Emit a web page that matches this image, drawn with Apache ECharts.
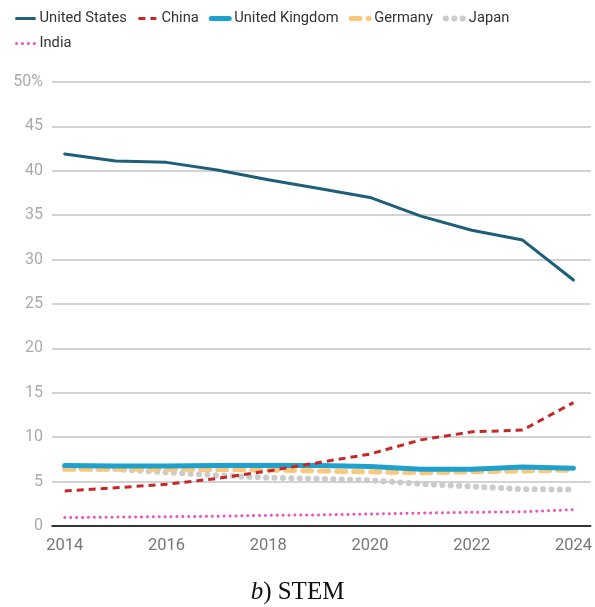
<!DOCTYPE html>
<html>
<head>
<meta charset="utf-8">
<script src="https://cdn.jsdelivr.net/npm/echarts@6/dist/echarts.min.js"></script>
<style>html,body{margin:0;padding:0;background:#fff}#c{width:595px;height:607px}</style>
</head>
<body>
<div id="c"></div>
<script>
const years = [2014,2015,2016,2017,2018,2019,2020,2021,2022,2023,2024];
const unitedStates = [41.9,41.1,40.95,40.1,39.0,38.0,37.0,34.9,33.3,32.2,27.7];
const china = [3.95,4.3,4.7,5.35,6.2,7.15,8.1,9.7,10.6,10.8,13.9];
const unitedKingdom = [6.8,6.75,6.75,6.8,6.8,6.8,6.7,6.4,6.4,6.65,6.5];
const germany = [6.4,6.4,6.4,6.35,6.3,6.2,6.1,6.0,6.1,6.2,6.3];
const japan = [6.5,6.4,6.05,5.7,5.45,5.3,5.15,4.75,4.45,4.15,4.1];
const india = [0.95,1.0,1.05,1.1,1.2,1.25,1.35,1.45,1.55,1.6,1.85];
const xTicks = [2014,2016,2018,2020,2022,2024];
const yTicks = [0,5,10,15,20,25,30,35,40,45,50];

const pair = arr => years.map((y,i)=>[y,arr[i]]);
const chart = echarts.init(document.getElementById('c'), null, {renderer:'canvas'});
const font = 'Roboto, "Noto Sans", sans-serif';
const styles = {
  'United States': {color:'#1d5f78', width:3, type:'solid', cap:'round', z:6},
  'China': {color:'#c62828', width:3, type:[7,5], cap:'butt', z:5},
  'United Kingdom': {color:'#1ea1cc', width:5, type:'solid', cap:'round', z:4},
  'Germany': {color:'#fbc77a', width:5, type:[9,8], cap:'round', z:3},
  'Japan': {color:'#cbcbcb', width:6, type:[0.1,8.3], cap:'round', z:2},
  'India': {color:'#ec52c2', width:3, type:[0.1,5.8], cap:'round', z:1}
};
const names = ['United States','China','United Kingdom','Germany','Japan','India'];
const values = [unitedStates, china, unitedKingdom, germany, japan, india];
chart.setOption({
  animation:false,
  textStyle:{fontFamily:font},
  legend:{
    left:10, top:6, width:530, itemWidth:18, itemHeight:12, itemGap:10,
    itemStyle:{opacity:0},
    textStyle:{fontSize:14.7, color:'#333', fontFamily:font},
    data:names.map(n=>({name:n, lineStyle:{width:styles[n].width, color:styles[n].color, type:styles[n].type, cap:styles[n].cap}}))
  },
  grid:{left:52, right:4, top:82, bottom:81},
  xAxis:{
    type:'value', min:2013.75, max:2024.34,
    axisLine:{show:true, onZero:false, lineStyle:{color:'#000', width:1.5}},
    axisTick:{show:false},
    splitLine:{show:false},
    axisLabel:{customValues:xTicks, fontSize:16.5, color:'#777', margin:11, fontFamily:font, formatter:v=>String(v)}
  },
  yAxis:{
    type:'value', min:0, max:50, interval:5,
    axisLine:{show:false}, axisTick:{show:false},
    splitLine:{lineStyle:{color:'#c4c4c4', width:1.5}},
    axisLabel:{fontSize:16, color:'#aaa', margin:9, fontFamily:font, formatter:v=>v===50?'50%':String(v)}
  },
  series:names.map((n,i)=>{
    const s = styles[n];
    return {name:n, type:'line', data:pair(values[i]), showSymbol:false, symbol:'none', z:s.z,
      lineStyle:{color:s.color, width:s.width, type:s.type, cap:s.cap, join:'round'}, itemStyle:{color:s.color}};
  }),
  graphic:[{
    type:'text', left:'center', top:580,
    style:{
      text:'{i|b}) STEM',
      rich:{i:{fontStyle:'italic', fontFamily:'"Liberation Serif", "DejaVu Serif", serif', fontSize:25, fill:'#111'}},
      font:'25px "Liberation Serif", "DejaVu Serif", serif', fill:'#111'
    }
  }]
});
</script>
</body>
</html>
